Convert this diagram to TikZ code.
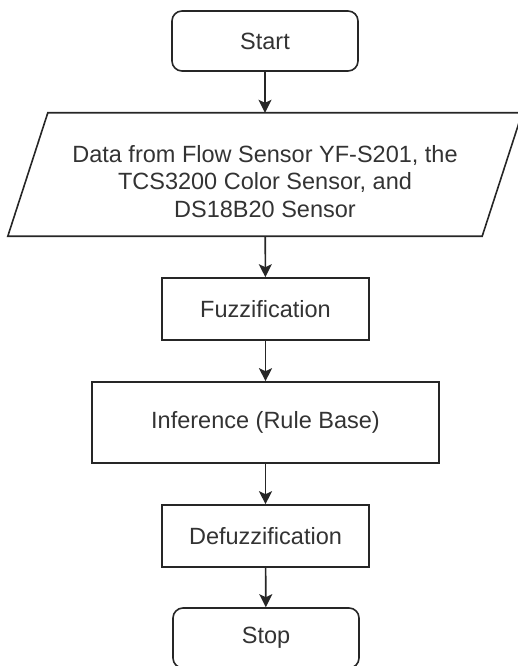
\documentclass[tikz,border=0pt]{standalone}
\usepackage{fontspec}
\setmainfont{Liberation Sans}
\usetikzlibrary{arrows.meta}
\definecolor{txt}{HTML}{333333}
\begin{document}
\begin{tikzpicture}[x=1pt,y=1pt,
  every node/.style={font=\fontsize{23.5}{27.5}\selectfont, text=txt, align=center, inner sep=0pt},
  box/.style={draw=black!85, line width=1.6pt, rectangle},
  term/.style={box, rounded corners=10pt, minimum width=186pt, minimum height=60pt},
  proc/.style={box, minimum width=207pt, minimum height=62pt},
  arr/.style={draw=black!85, line width=1.6pt, -{Stealth[length=13pt,width=13pt,inset=3pt]}}
]
\useasboundingbox (0,0) rectangle (518,-666);
\node[term] (start) at (265,-41) {Start};
\node[minimum width=474pt, minimum height=123pt] (data) at (265,-174.5) {};
\draw[draw=black!85, line width=1.6pt, line join=miter]
  ([xshift=20pt]data.north west) -- ([xshift=20pt]data.north east)
  -- ([xshift=-20pt]data.south east) -- ([xshift=-20pt]data.south west) -- cycle;
\node (datatext) at ([yshift=-7pt]data.center)
  {Data from Flow Sensor YF-S201, the\\TCS3200 Color Sensor, and\\DS18B20 Sensor};
\node[proc] (fuzz) at (265.5,-309) {Fuzzification};
\node[box, minimum width=347pt, minimum height=81pt] (inf) at (265.5,-422.5) {Inference (Rule Base)};
\node[proc] (defuzz) at (265.5,-536) {Defuzzification};
\node[term] (stop) at (266,-638) {Stop};
\draw[arr] (start) -- (data);
\draw[arr] (data) -- (fuzz);
\draw[arr] (fuzz) -- (inf);
\draw[arr] (inf) -- (defuzz);
\draw[arr] (defuzz) -- (stop);
\end{tikzpicture}
\end{document}
